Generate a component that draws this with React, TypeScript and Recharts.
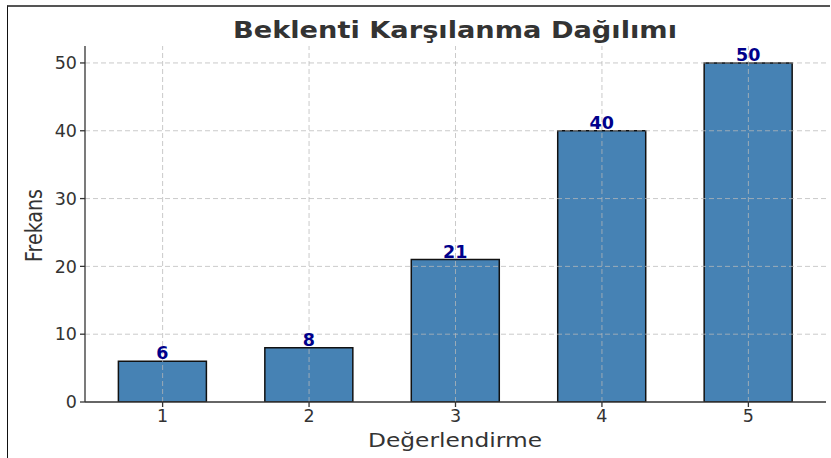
import { Bar, BarChart, LabelList, ReferenceLine, XAxis, YAxis } from "recharts";

const ratings = [1, 2, 3, 4, 5];
const counts = [6, 8, 21, 40, 50];
const yTicks = [0, 10, 20, 30, 40, 50];

const data = ratings.map((r, i) => ({ rating: r, count: counts[i] }));

const FONT = "'DejaVu Sans', sans-serif";
const TEXT = "#333333";
const GRID = "#b8b8b8";

export default function App() {
  return (
    <div style={{ position: "absolute", left: 0, top: 0, width: 831, height: 458, background: "#fff", fontFamily: FONT }}>
      <div
        style={{
          position: "absolute",
          left: 7,
          top: 5,
          width: 822,
          height: 460,
          borderTop: "2px solid #555",
          borderLeft: "1.5px solid #111",
        }}
      />
      <svg width={831} height={458} style={{ position: "absolute", left: 0, top: 0 }}>
        <text
          x={233}
          y={38}
          textLength={444}
          lengthAdjust="spacingAndGlyphs"
          fontFamily={FONT}
          fontWeight="bold"
          fontSize={23}
          fill={TEXT}
        >
          Beklenti Karşılanma Dağılımı
        </text>
        <text
          x={368}
          y={447}
          textLength={174}
          lengthAdjust="spacingAndGlyphs"
          fontFamily={FONT}
          fontSize={19.5}
          fill={TEXT}
        >
          Değerlendirme
        </text>
        <text
          transform="translate(42,262) rotate(-90)"
          textLength={73}
          lengthAdjust="spacingAndGlyphs"
          fontFamily={FONT}
          fontSize={22.5}
          fill={TEXT}
        >
          Frekans
        </text>
      </svg>
      <div style={{ position: "absolute", left: 0, top: 0 }}>
        <BarChart width={831} height={458} data={data} margin={{ top: 46, right: 5, bottom: 26, left: 25 }}>
          <XAxis
            dataKey="rating"
            type="number"
            domain={[0.47, 5.53]}
            ticks={ratings}
            allowDataOverflow
            height={30}
            stroke={TEXT}
            strokeWidth={1.3}
            tickSize={5}
            tick={{ fill: TEXT, fontSize: 17.5, fontFamily: FONT }}
            tickMargin={3}
          />
          <YAxis
            type="number"
            domain={[0, 52.5]}
            ticks={yTicks}
            allowDataOverflow
            width={60}
            stroke={TEXT}
            strokeWidth={1.3}
            tickSize={5}
            tick={{ fill: TEXT, fontSize: 17.5, fontFamily: FONT }}
            tickMargin={3}
          />
          <Bar dataKey="count" fill="#4682b4" stroke="#111" strokeWidth={1.5} barSize={88} isAnimationActive={false}>
            <LabelList dataKey="count" position="top" offset={2} fill="#00008b" fontSize={17.5} fontWeight="bold" fontFamily={FONT} />
          </Bar>
          {ratings.map((r) => (
            <ReferenceLine key={`x${r}`} x={r} stroke={GRID} strokeOpacity={0.75} strokeDasharray="5 3" />
          ))}
          {yTicks.slice(1).map((v) => (
            <ReferenceLine key={`y${v}`} y={v} stroke={GRID} strokeOpacity={0.75} strokeDasharray="5 3" />
          ))}
        </BarChart>
      </div>
    </div>
  );
}
